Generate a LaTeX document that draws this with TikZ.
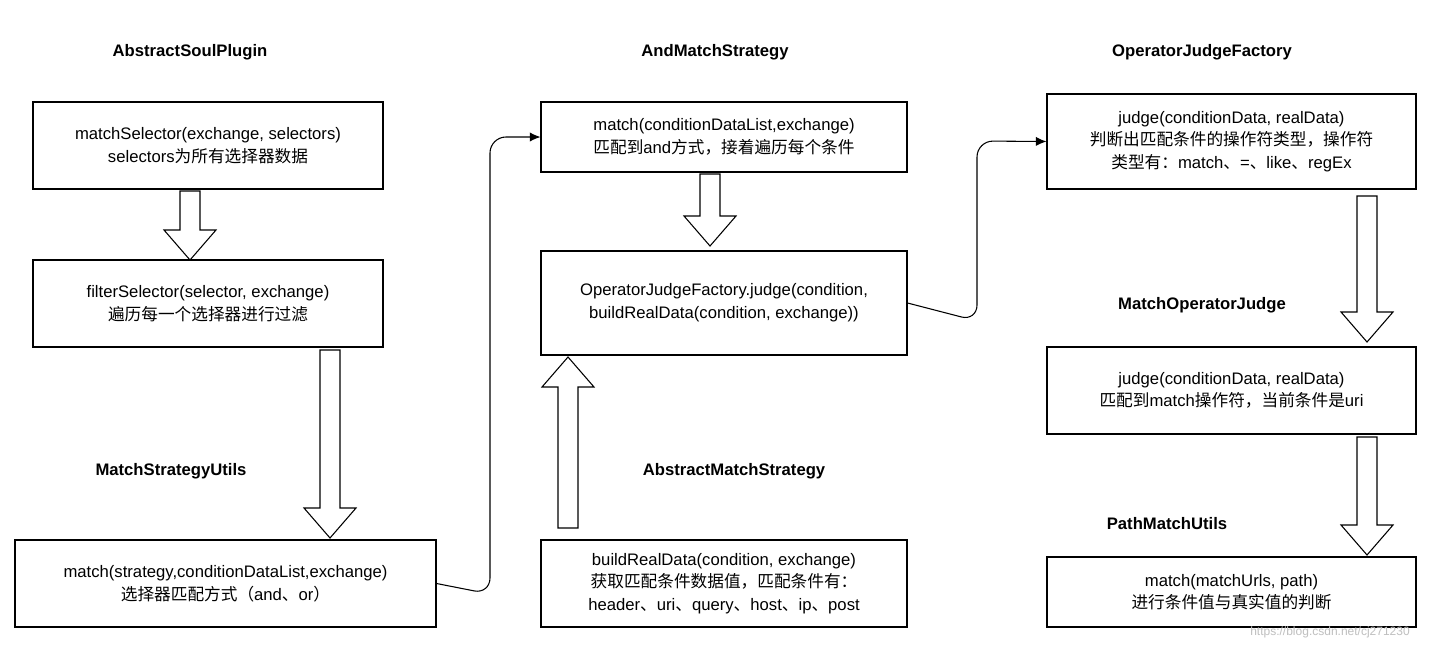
\documentclass[tikz,border=0pt]{standalone}
\usepackage{fontspec}
\setmainfont{Liberation Sans}
\newfontfamily\cjk{Noto Sans CJK SC}
\begin{document}
\begin{tikzpicture}[x=0.75pt,y=-0.75pt,
  box/.style={draw,thick,align=center,font=\fontsize{12.5}{17}\selectfont,inner sep=0pt},
  ttl/.style={font=\fontsize{12.5}{15}\selectfont\bfseries},
  conn/.style={thick,rounded corners=12pt,-{Latex[length=8pt,width=7pt]}}]
\usetikzlibrary{arrows.meta}
\useasboundingbox (0,0) rectangle (1444,650);
\fill[white] (0,0) rectangle (1444,650);
\newcommand\bx[6]{\node[box,minimum width={(#4-#2)*0.75pt},minimum height={(#5-#3)*0.75pt}] (#1) at ({(#2+#4)/2},{(#3+#5)/2}) {#6};}
\newcommand\barr[4]{% x, y-start, y-end(tip), dir
  \draw[thick,fill=white] ({#1-10},#2) -- ({#1+10},#2) -- ({#1+10},{#3-#4*30}) -- ({#1+26},{#3-#4*30}) -- (#1,#3) -- ({#1-26},{#3-#4*30}) -- ({#1-10},{#3-#4*30}) -- cycle;}
\bx{b1}{33}{102}{383}{189}{matchSelector(exchange, selectors)\\selectors{\cjk 为所有选择器数据}}
\bx{b2}{33}{260}{383}{347}{filterSelector(selector, exchange)\\{\cjk 遍历每一个选择器进行过滤}}
\bx{b3}{15}{540}{436}{627}{match(strategy,conditionDataList,exchange)\\{\cjk 选择器匹配方式（}and{\cjk 、}or{\cjk ）}}
\bx{b4}{541}{102}{907}{172}{match(conditionDataList,exchange)\\{\cjk 匹配到}and{\cjk 方式，接着遍历每个条件}}
\bx{b5}{541}{251}{907}{355}{OperatorJudgeFactory.judge(condition,\\buildRealData(condition, exchange))}
\bx{b6}{541}{540}{907}{627}{buildRealData(condition, exchange)\\{\cjk 获取匹配条件数据值，匹配条件有：}\\header{\cjk 、}uri{\cjk 、}query{\cjk 、}host{\cjk 、}ip{\cjk 、}post}
\bx{b7}{1047}{94}{1416}{189}{judge(conditionData, realData)\\{\cjk 判断出匹配条件的操作符类型，操作符}\\{\cjk 类型有：}match{\cjk 、}={\cjk 、}like{\cjk 、}regEx}
\bx{b8}{1047}{347}{1416}{434}{judge(conditionData, realData)\\{\cjk 匹配到}match{\cjk 操作符，当前条件是}uri}
\bx{b9}{1047}{557}{1416}{627}{match(matchUrls, path)\\{\cjk 进行条件值与真实值的判断}}
\node[ttl] (t1) at (190,52) {AbstractSoulPlugin};
\node[ttl] (t2) at (715,52) {AndMatchStrategy};
\node[ttl] (t3) at (1202,52) {OperatorJudgeFactory};
\node[ttl] (t4) at (171,471) {MatchStrategyUtils};
\node[ttl] (t5) at (734,471) {AbstractMatchStrategy};
\node[ttl] (t6) at (1202,305) {MatchOperatorJudge};
\node[ttl] (t7) at (1167,524) {PathMatchUtils};
\barr{190}{191}{260}{1}
\barr{330}{350}{538}{1}
\barr{710}{174}{246}{1}
\barr{568}{528}{357}{-1}
\barr{1367}{196}{342}{1}
\barr{1367}{437}{555}{1}
\draw[conn] (b3.east) -- (490,594) -- (490,137) -- (b4.west);
\draw[conn] (b5.east) -- (977,321) -- (977,141) -- (b7.west);
\node[font=\fontsize{9}{10}\selectfont,text=gray!50] (wm) at (1330,632) {https://blog.csdn.net/cj271230};
\end{tikzpicture}
\end{document}
